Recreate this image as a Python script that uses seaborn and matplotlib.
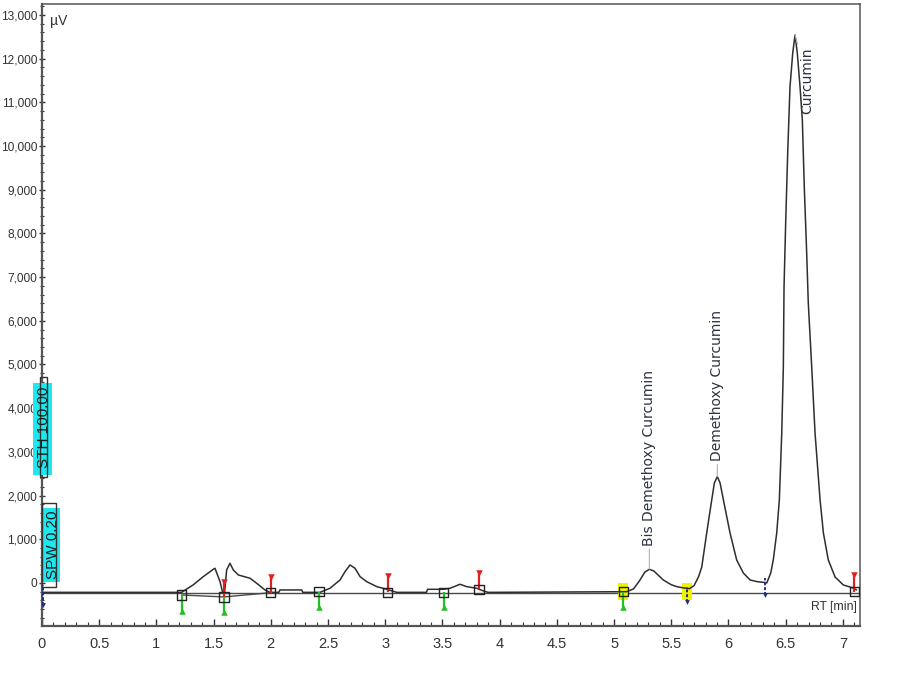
import numpy as np
import pandas as pd
import matplotlib
matplotlib.use("Agg")
import matplotlib.pyplot as plt
import seaborn as sns
from matplotlib.patches import Rectangle
from matplotlib.ticker import MultipleLocator, FixedLocator

# ---------------- data ----------------
rt_min = [0.00, 1.20, 1.22, 1.32, 1.41, 1.497, 1.512, 1.556, 1.580, 1.595,
          1.614, 1.643, 1.672, 1.716, 1.818, 1.877, 1.949, 1.993, 2.07, 2.08,
          2.27, 2.28, 2.43, 2.517, 2.605, 2.649, 2.692, 2.736, 2.780, 2.838,
          2.926, 3.013, 3.10, 3.36, 3.37, 3.508, 3.566, 3.654, 3.712, 3.80,
          3.858, 3.90, 5.11, 5.17, 5.22, 5.27, 5.309, 5.35, 5.43, 5.50,
          5.548, 5.60, 5.66, 5.70, 5.74, 5.767, 5.810, 5.854, 5.877, 5.903,
          5.927, 5.956, 6.014, 6.072, 6.130, 6.189, 6.25, 6.32, 6.335, 6.370,
          6.392, 6.422, 6.445, 6.466, 6.480, 6.486, 6.501, 6.518, 6.538, 6.562,
          6.582, 6.602, 6.626, 6.646, 6.663, 6.684, 6.698, 6.728, 6.757, 6.801,
          6.830, 6.873, 6.932, 7.004, 7.089, 7.12]
signal_uv = [-215, -215, -215, -46, 145, 313, 336, 30, -229, -250,
             298, 451, 298, 183, 108, -8, -160, -215, -215, -160,
             -160, -215, -215, -122, 69, 259, 412, 336, 145, 30,
             -84, -145, -215, -215, -145, -145, -122, -30, -84, -122,
             -183, -215, -200, -137, 40, 250, 313, 270, 69, -40,
             -84, -110, -130, -60, 150, 366, 1144, 1900, 2288, 2433,
             2288, 1900, 1144, 526, 229, 69, 30, 10, 0, 229,
             526, 1144, 1900, 3432, 4943, 6773, 8307, 9840, 11350, 12128,
             12540, 12128, 11350, 10595, 9062, 7551, 6407, 4943, 3432, 1900,
             1144, 526, 137, -46, -114, -160]

baseline_level = -229
fit_rt = [1.22, 1.59, 2.00]
fit_uv = [-275, -320, -222]

square_rt = [1.22, 1.59, 2.00, 2.42, 3.02, 3.51, 3.82, 5.08, 7.10]
square_uv = [-275, -320, -222, -200, -213, -213, -145, -200, -200]
red_rt = [1.59, 2.00, 3.02, 3.82, 7.10]
red_base = [-320, -222, -213, -145, -200]
red_top = [23, 137, 160, 229, 183]
green_rt = [1.22, 1.59, 2.42, 3.51, 5.08]
green_base = [-275, -320, -200, -213, -200]
green_bottom = [-640, -664, -549, -549, -549]
blue_rt = [0.01, 5.64, 6.32]
blue_top = [-50, -90, 115]
blue_bottom = [-500, -435, -275]
yellow_rt = [5.08, 5.64]

peak_names = ["Bis Demethoxy Curcumin", "Demethoxy Curcumin", "Curcumin"]
peak_rt = [5.309, 5.903, 6.582]
peak_uv = [313, 2433, 12540]

x_ticks = [0, 0.5, 1, 1.5, 2, 2.5, 3, 3.5, 4, 4.5, 5, 5.5, 6, 6.5, 7]
x_labels = ["0", "0.5", "1", "1.5", "2", "2.5", "3", "3.5", "4", "4.5",
            "5", "5.5", "6", "6.5", "7"]
y_ticks = [0, 1000, 2000, 3000, 4000, 5000, 6000, 7000, 8000, 9000,
           10000, 11000, 12000, 13000]
y_labels = ["0", "1,000", "2,000", "3,000", "4,000", "5,000", "6,000", "7,000",
            "8,000", "9,000", "10,000", "11,000", "12,000", "13,000"]

# ---------------- figure ----------------
sns.set_style("white")
plt.rcParams['font.family'] = ['Liberation Sans', 'DejaVu Sans']

fig = plt.figure(figsize=(8.99, 6.75), dpi=100)
ax = fig.add_axes([42 / 899, 1 - 626 / 675, 818 / 899, 622 / 675])

ax.axhline(baseline_level, color="#4a4a4a", lw=1.0, zorder=2)
ax.plot(fit_rt, fit_uv, color="#4a4a4a", lw=1.0, zorder=2)

df = pd.DataFrame({"RT": rt_min, "uV": signal_uv})
sns.lineplot(data=df, x="RT", y="uV", ax=ax, color="#2e2e2e", lw=1.1,
             sort=False, estimator=None, zorder=3)

# yellow highlights
for r in yellow_rt:
    ax.add_patch(Rectangle((r - 0.043, -380), 0.086, 380, facecolor="#f2f200",
                           edgecolor="none", zorder=2.5))

# red / green / blue markers
ax.vlines(red_rt, red_base, red_top, color="#e02020", lw=1.6, zorder=4)
ax.scatter(red_rt, red_top, marker="v", s=22, color="#e02020", zorder=5, linewidths=0)
ax.vlines(green_rt, green_base, green_bottom, color="#22c022", lw=1.6, zorder=4)
ax.scatter(green_rt, green_bottom, marker="^", s=22, color="#22c022", zorder=5, linewidths=0)
ax.vlines(blue_rt, blue_bottom, blue_top, color="#1f2f80", lw=1.4,
          linestyles=(0, (1.5, 1)), zorder=4)
ax.scatter(blue_rt, blue_bottom, marker="v", s=12, color="#1f2f80", zorder=5, linewidths=0)

ax.scatter(square_rt, square_uv, marker="s", s=45, facecolor="none",
           edgecolor="#222222", linewidths=1.0, zorder=6)

# peak labels
offsets = [(0, 17), (0, 11), (9, -9)]
for name, r, v, off in zip(peak_names, peak_rt, peak_uv, offsets):
    va = "top" if off[1] < 0 else "bottom"
    ax.annotate(name, xy=(r, v), xytext=off, textcoords="offset points",
                rotation=90, ha="center", va=va, fontsize=10,
                family=["DejaVu Sans"], color="#2c3240",
                arrowprops=dict(arrowstyle="-", color="#b0b0b0", lw=0.8,
                                shrinkA=0, shrinkB=0))

# axes
ax.set_xlim(0, 7.15)
ax.set_ylim(-985, 13250)
ax.xaxis.set_major_locator(FixedLocator(x_ticks))
ax.set_xticklabels(x_labels)
ax.xaxis.set_minor_locator(MultipleLocator(0.1))
ax.yaxis.set_major_locator(FixedLocator(y_ticks))
ax.set_yticklabels(y_labels)
ax.yaxis.set_minor_locator(MultipleLocator(200))
ax.set_xlabel("")
ax.set_ylabel("")

ax.tick_params(axis="x", which="major", direction="in", length=5, width=1,
               pad=8, labelsize=10.5, colors="#333333", bottom=True)
ax.tick_params(axis="x", which="minor", direction="in", length=3, width=0.8,
               colors="#333333", bottom=True)
ax.tick_params(axis="y", which="major", direction="inout", length=5, width=1,
               pad=1, labelsize=8.6, colors="#333333", left=True)
ax.tick_params(axis="y", which="minor", direction="inout", length=3, width=0.8,
               colors="#333333", left=True)

for s in ax.spines.values():
    s.set_visible(True)
    s.set_color("#555555")
    s.set_linewidth(1.1)
ax.spines["left"].set_linewidth(1.6)
ax.spines["bottom"].set_linewidth(1.6)

ax.text(0.010, 0.972, "µV", transform=ax.transAxes, fontsize=10,
        color="#333333", ha="left", va="center")
ax.text(0.996, 0.031, "RT [min]", transform=ax.transAxes, fontsize=8.8,
        color="#333333", ha="right", va="center")

# cyan parameter boxes
ax.add_patch(Rectangle((-0.079, 2470), 0.166, 2110, facecolor="#1ee8ef",
                       edgecolor="none", clip_on=False, zorder=7))
ax.add_patch(Rectangle((-0.02, 2426), 0.065, 2288, facecolor="none",
                       edgecolor="#333333", lw=1.0, clip_on=False, zorder=7))
ax.text(0.02, 3570, "STH 100.00", rotation=90, ha="center", va="center",
        fontsize=11, color="#1a1a1a", clip_on=False, zorder=8)
ax.add_patch(Rectangle((0.01, 20), 0.147, 1700, facecolor="#1ee8ef",
                       edgecolor="none", clip_on=False, zorder=7))
ax.add_patch(Rectangle((0.0, -100), 0.123, 1931, facecolor="none",
                       edgecolor="#333333", lw=1.0, clip_on=False, zorder=7))
ax.text(0.092, 870, "SPW 0.20", rotation=90, ha="center", va="center",
        fontsize=11, color="#1a1a1a", clip_on=False, zorder=8)

fig.savefig("out.png", dpi=100, facecolor="white")
